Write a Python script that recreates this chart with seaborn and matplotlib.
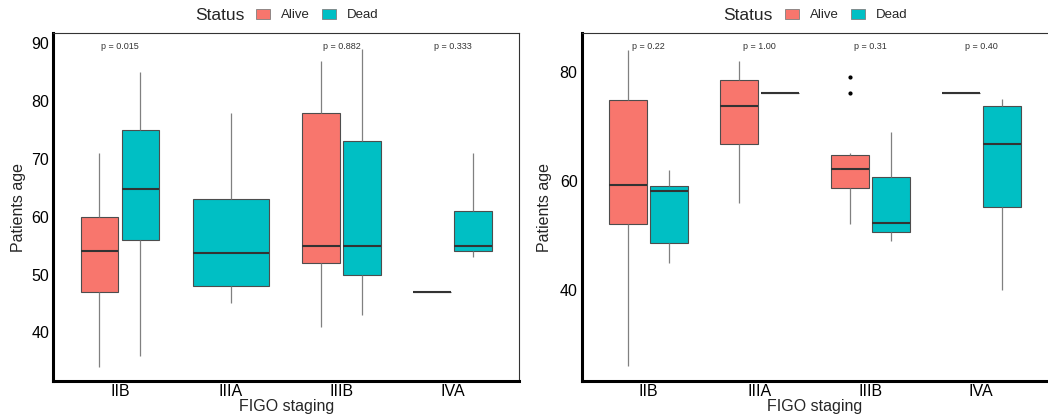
import matplotlib.pyplot as plt
import matplotlib.transforms as mtransforms
import pandas as pd
import seaborn as sns
from matplotlib.patches import Patch

# ---------------------------------------------------------------------------
# Data (ages: min, Q1, median, Q3, max, plus outliers)
# ---------------------------------------------------------------------------
stages = ["IIB", "IIIA", "IIIB", "IVA"]
status_levels = ["Alive", "Dead"]
palette = {"Alive": "#F8766D", "Dead": "#00BFC4"}

# left panel
left_iib_alive = [34, 47, 54, 60, 71]
left_iib_dead = [36, 56, 64.8, 75, 85]
left_iiia_dead = [45, 48, 53.7, 63, 78]
left_iiib_alive = [41, 52, 55, 78, 87]
left_iiib_dead = [43, 50, 55, 73, 89]
left_iva_alive = [47]
left_iva_dead = [53, 54, 55, 61, 71]
left_pvals = ["p = 0.015", "", "p = 0.882", "p = 0.333"]
left_yticks = [40, 50, 60, 70, 80, 90]

# right panel
right_iib_alive = [26, 52, 59.2, 74.7, 84]
right_iib_dead = [45, 48.6, 58.2, 59.1, 62]
right_iiia_alive = [56, 66.7, 73.7, 78.4, 82]
right_iiia_dead = [76]
right_iiib_alive = [52, 55, 57, 58.6, 60, 61, 62.1, 63, 64, 64.7, 65, 76, 79]
right_iiib_dead = [49, 50.6, 52.2, 60.6, 69]
right_iva_alive = [76]
right_iva_dead = [40, 55.2, 66.7, 73.6, 75]
right_pvals = ["p = 0.22", "p = 1.00", "p = 0.31", "p = 0.40"]
right_yticks = [40, 60, 80]


def long_frame(groups):
    rows = []
    for (stage, status), ages in groups.items():
        rows += [{"stage": stage, "status": status, "age": a} for a in ages]
    return pd.DataFrame(rows)


left_hue = long_frame({
    ("IIB", "Alive"): left_iib_alive, ("IIB", "Dead"): left_iib_dead,
    ("IIIB", "Alive"): left_iiib_alive, ("IIIB", "Dead"): left_iiib_dead,
    ("IVA", "Alive"): left_iva_alive, ("IVA", "Dead"): left_iva_dead,
})
# IIIA has only "Dead" patients -> single full-width box
left_single = long_frame({("IIIA", "Dead"): left_iiia_dead})

right_hue = long_frame({
    ("IIB", "Alive"): right_iib_alive, ("IIB", "Dead"): right_iib_dead,
    ("IIIA", "Alive"): right_iiia_alive, ("IIIA", "Dead"): right_iiia_dead,
    ("IIIB", "Alive"): right_iiib_alive, ("IIIB", "Dead"): right_iiib_dead,
    ("IVA", "Alive"): right_iva_alive, ("IVA", "Dead"): right_iva_dead,
})

sns.set_style("white")
plt.rcParams["font.family"] = ["Liberation Sans", "DejaVu Sans"]

box_kw = dict(
    linecolor="#4d4d4d", linewidth=0.8, saturation=1, showcaps=False,
    fliersize=2,
    flierprops=dict(marker="o", markerfacecolor="black", markeredgecolor="black"),
    medianprops=dict(color="#333333", linewidth=1.5),
    whiskerprops=dict(color="#808080", linewidth=0.9),
)


def draw_panel(ax, df_hue, pvals, yticks, ylim, ylabel_x, df_single=None,
               hide_right=False):
    sns.boxplot(data=df_hue, x="stage", y="age", hue="status", order=stages,
                hue_order=status_levels, palette=palette, width=0.74, gap=0.08,
                legend=False, ax=ax, **box_kw)
    if df_single is not None:
        sns.boxplot(data=df_single, x="stage", y="age", order=stages,
                    color=palette["Dead"], width=0.685, ax=ax, **box_kw)
    ax.set_xlim(-0.6, 3.6)
    ax.set_ylim(*ylim)
    ax.set_yticks(yticks)
    ax.set_xticks(range(len(stages)))
    ax.set_xticklabels(stages)
    ax.tick_params(axis="both", length=0, labelsize=11.5, colors="black")
    ax.tick_params(axis="y", pad=3)
    ax.tick_params(axis="x", pad=2)
    ax.set_xlabel("FIGO staging", fontsize=11.5)
    ax.set_ylabel("Patients age", fontsize=11.5)
    ax.xaxis.set_label_coords(0.5, -0.053)
    ax.yaxis.set_label_coords(ylabel_x, 0.5)
    for side in ("left", "bottom"):
        ax.spines[side].set_linewidth(2.2)
        ax.spines[side].set_color("black")
    for side in ("top", "right"):
        ax.spines[side].set_linewidth(0.8)
        ax.spines[side].set_color("#333333")
    if hide_right:
        ax.spines["right"].set_visible(False)
    trans = mtransforms.blended_transform_factory(ax.transData, ax.transAxes)
    for i, p in enumerate(pvals):
        if p:
            ax.text(i, 0.961, p, transform=trans, ha="center", va="center",
                    fontsize=6.5, color="#333333")


def draw_legend(fig, title_x, entries_x):
    fig.text(title_x, 1 - 15 / 418, "Status", fontsize=12.5, ha="center", va="center")
    handles = [Patch(facecolor=palette[s], edgecolor="#7f7f7f", linewidth=0.6)
               for s in status_levels]
    leg = fig.legend(handles, status_levels, loc="center", ncol=2,
                     bbox_to_anchor=(entries_x, 1 - 15 / 418), frameon=False,
                     fontsize=9.5, handlelength=1.1, handleheight=0.8,
                     handletextpad=0.8, columnspacing=0.9, borderpad=0)
    return leg


fig = plt.figure(figsize=(10.48, 4.18), dpi=100)
ax_left = fig.add_axes([0.0509, 0.0885, 0.4447, 0.8318])
ax_right = fig.add_axes([0.5551, 0.0885, 0.4447, 0.8318])

draw_panel(ax_left, left_hue, left_pvals, left_yticks, (31.6, 91.7), -0.059,
           df_single=left_single)
draw_panel(ax_right, right_hue, right_pvals, right_yticks, (23.3, 87.0), -0.063,
           hide_right=True)

draw_legend(fig, 220 / 1048, 317 / 1048)
draw_legend(fig, 748 / 1048, 846 / 1048)

fig.savefig("out.png", dpi=100)
